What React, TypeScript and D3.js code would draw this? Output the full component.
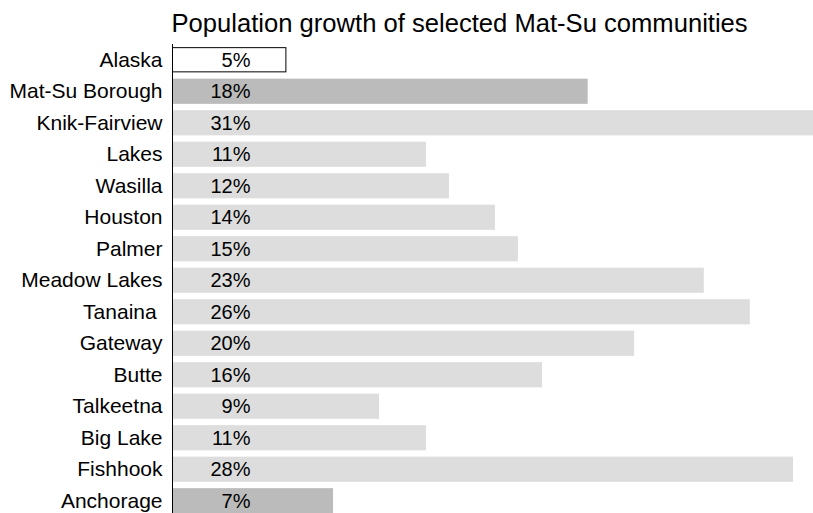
import React from "react";
import * as d3 from "d3";

const categories = [
  "Alaska",
  "Mat-Su Borough",
  "Knik-Fairview",
  "Lakes",
  "Wasilla",
  "Houston",
  "Palmer",
  "Meadow Lakes",
  "Tanaina ",
  "Gateway",
  "Butte",
  "Talkeetna",
  "Big Lake",
  "Fishhook",
  "Anchorage",
];
const growthValues = [4.93, 18.05, 31, 11.02, 12.02, 14.02, 15.02, 23.1, 25.1, 20.07, 16.07, 8.98, 11.02, 26.98, 6.98];
const valueLabels = ["5%", "18%", "31%", "11%", "12%", "14%", "15%", "23%", "26%", "20%", "16%", "9%", "11%", "28%", "7%"];
const groupKinds = ["state", "borough", "cdp", "cdp", "cdp", "cdp", "cdp", "cdp", "cdp", "cdp", "cdp", "cdp", "cdp", "cdp", "city"];
const title = "Population growth of selected Mat-Su communities";

const W = 813;
const H = 513;

export default function App() {
  const x = d3.scaleLinear().domain([0, 30]).range([172.5, 172.5 + 30 * 23]);
  const y = d3
    .scaleBand<string>()
    .domain(categories)
    .range([44, 516.5])
    .paddingInner(0.2)
    .paddingOuter(0.1);
  const fill = (k: string) => (k === "state" ? "#ffffff" : k === "cdp" ? "#dddddd" : "#bbbbbb");
  const font = "'Liberation Sans', Arial, sans-serif";

  return (
    <svg
      width={W}
      height={H}
      style={{ position: "absolute", left: 0, top: 0, background: "#fff" }}
      fontFamily={font}
    >
      <text x={171.5} y={31.5} fontSize={25.6} fill="#000">
        {title}
      </text>
      {categories.map((c, i) => {
        const y0 = y(c)!;
        const bw = y.bandwidth();
        const kind = groupKinds[i];
        return (
          <g key={c}>
            <rect
              x={x(0)}
              y={kind === "state" ? y0 + 0.5 : y0}
              width={x(growthValues[i]) - x(0)}
              height={kind === "state" ? bw - 1 : bw}
              fill={fill(kind)}
              stroke={kind === "state" ? "#000" : "none"}
              strokeWidth={1}
            />
            <text
              x={162.5}
              y={y0 + bw / 2}
              dy="0.34em"
              textAnchor="end"
              fontSize={21}
              fill="#000"
              style={{ whiteSpace: "pre" }}
            >
              {c}
            </text>
            <text x={250.5} y={y0 + bw / 2} dy="0.35em" textAnchor="end" fontSize={20} fill="#000">
              {valueLabels[i]}
            </text>
          </g>
        );
      })}
      <line x1={172.5} x2={172.5} y1={44} y2={H} stroke="#000" strokeWidth={1} />
    </svg>
  );
}
